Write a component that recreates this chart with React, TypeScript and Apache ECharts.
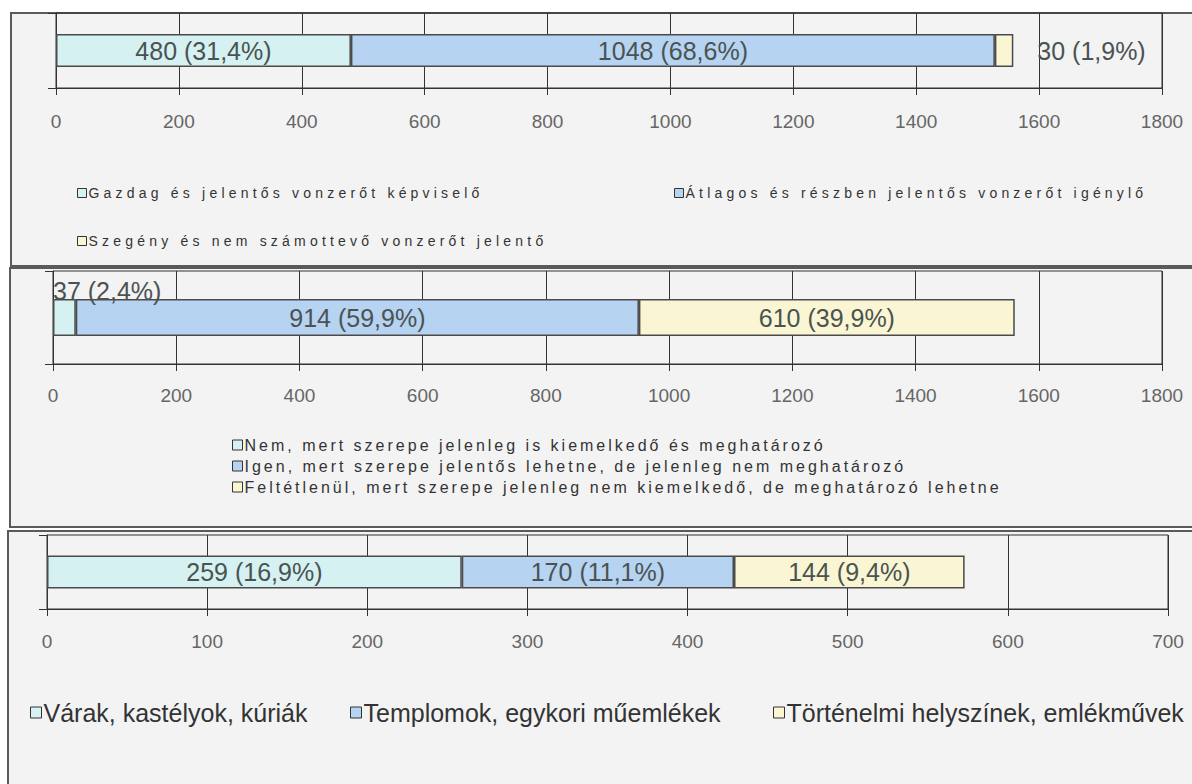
import React, { useEffect, useRef } from "react";
import * as echarts from "echarts";

// ---- data ----
const panel1Names = [
  "Gazdag és jelentős vonzerőt képviselő",
  "Átlagos és részben jelentős vonzerőt igénylő",
  "Szegény és nem számottevő vonzerőt jelentő",
];
const panel1Values = [480, 1048, 30];
const panel1Pcts = ["31,4%", "68,6%", "1,9%"];

const panel2Names = [
  "Nem, mert szerepe jelenleg is kiemelkedő és meghatározó",
  "Igen, mert szerepe jelentős lehetne, de jelenleg nem meghatározó",
  "Feltétlenül, mert szerepe jelenleg nem kiemelkedő, de meghatározó lehetne",
];
const panel2Values = [37, 914, 610];
const panel2Pcts = ["2,4%", "59,9%", "39,9%"];

const panel3Names = [
  "Várak, kastélyok, kúriák",
  "Templomok, egykori műemlékek",
  "Történelmi helyszínek, emlékművek",
];
const panel3Values = [259, 170, 144];
const panel3Pcts = ["16,9%", "11,1%", "9,4%"];

const axisMax = [1800, 1800, 700];
const axisStep = [200, 200, 100];

const seriesColors = ["#d6f1f1", "#b6d3f1", "#faf6d3"];

const FONT = "'Liberation Sans', Arial, sans-serif";

export default function App() {
  const ref = useRef<HTMLDivElement>(null);

  useEffect(() => {
    if (!ref.current) return;
    const el = ref.current;
    const chart = echarts.init(el, undefined, { renderer: "svg" });

    const panels = [
      { names: panel1Names, values: panel1Values, pcts: panel1Pcts },
      { names: panel2Names, values: panel2Values, pcts: panel2Pcts },
      { names: panel3Names, values: panel3Values, pcts: panel3Pcts },
    ];

    const grids = [
      { left: 56, top: 13, width: 1106, height: 75 },
      { left: 53, top: 271, width: 1109, height: 93 },
      { left: 47, top: 535, width: 1121, height: 74 },
    ];
    const barWidths = [33, 37, 33];
    const labelMargins = [24, 22, 23];

    // label placement per panel / series
    const labelPos: any[][] = [
      [
        { position: "inside" },
        { position: "inside" },
        { position: "right", distance: 24 },
      ],
      [
        { position: [0, -8], align: "left", verticalAlign: "middle" },
        { position: "inside" },
        { position: "inside" },
      ],
      [{ position: "inside" }, { position: "inside" }, { position: "inside" }],
    ];

    const series: any[] = [];
    panels.forEach((p, pi) => {
      p.names.forEach((name, si) => {
        series.push({
          type: "bar",
          name,
          stack: "s" + pi,
          xAxisIndex: pi,
          yAxisIndex: pi,
          barWidth: barWidths[pi],
          data: [p.values[si]],
          itemStyle: {
            color: seriesColors[si],
            borderColor: "#4a4a4a",
            borderWidth: 1.5,
          },
          label: {
            show: true,
            formatter: `${p.values[si]} (${p.pcts[si]})`,
            fontSize: 25,
            fontFamily: FONT,
            color: "#4a5252",
            ...labelPos[pi][si],
          },
        });
      });
    });

    const legendPos = [
      [
        { left: 77, top: 186 },
        { left: 674, top: 186 },
        { left: 77, top: 234 },
      ],
      [
        { left: 232, top: 437 },
        { left: 232, top: 458 },
        { left: 232, top: 479 },
      ],
      [
        { left: 30, top: 700 },
        { left: 350, top: 700 },
        { left: 773, top: 700 },
      ],
    ];
    const legendFont = [14, 16, 25];
    const legendIcon = [9, 10, 11];

    const legends: any[] = [];
    panels.forEach((p, pi) => {
      p.names.forEach((name, si) => {
        legends.push({
          data: [name],
          ...legendPos[pi][si],
          padding: 0,
          orient: "horizontal",
          icon: "rect",
          itemWidth: legendIcon[pi],
          itemHeight: legendIcon[pi],
          selectedMode: false,
          itemStyle: { borderColor: "#333", borderWidth: 1 },
          textStyle: {
            fontSize: legendFont[pi],
            fontFamily: FONT,
            color: "#333",
            padding: [0, 0, 0, -3],
          },
        });
      });
    });

    const option: any = {
      animation: false,
      backgroundColor: "#ffffff",
      graphic: [
        {
          type: "rect",
          z: -1,
          shape: { x: 11, y: 13, width: 1200, height: 253 },
          style: { fill: "#f3f3f3", stroke: "#5a5a5a", lineWidth: 2 },
        },
        {
          type: "rect",
          z: -1,
          shape: { x: 10, y: 268, width: 1200, height: 259 },
          style: { fill: "#f3f3f3", stroke: "#5a5a5a", lineWidth: 2 },
        },
        {
          type: "rect",
          z: -1,
          shape: { x: 8, y: 531, width: 1200, height: 270 },
          style: { fill: "#f3f3f3", stroke: "#5a5a5a", lineWidth: 2 },
        },
      ],
      grid: grids.map((g) => ({
        ...g,
        show: true,
        borderColor: "#333",
        borderWidth: 1,
        backgroundColor: "transparent",
        containLabel: false,
        outerBoundsMode: "none",
      })),
      xAxis: grids.map((_, i) => ({
        type: "value",
        gridIndex: i,
        min: 0,
        max: axisMax[i],
        interval: axisStep[i],
        axisLine: { show: true, lineStyle: { color: "#333", width: 1 } },
        axisTick: { show: true, length: 7, lineStyle: { color: "#333" } },
        splitLine: { show: true, lineStyle: { color: "#333", width: 1 } },
        axisLabel: {
          color: "#666",
          fontSize: 19,
          fontFamily: FONT,
          margin: labelMargins[i],
          formatter: (v: number) => String(v),
        },
      })),
      yAxis: grids.map((_, i) => ({
        type: "category",
        gridIndex: i,
        data: [""],
        axisLine: { show: true, lineStyle: { color: "#333" } },
        axisTick: { show: true, length: 8, lineStyle: { color: "#333" } },
        axisLabel: { show: false },
      })),
      legend: legends,
      series,
    };

    chart.setOption(option);

    const applySpacing = () => {
      el.querySelectorAll("text").forEach((t) => {
        const fs = parseFloat(getComputedStyle(t).fontSize);
        if (fs === 14) (t as any).style.letterSpacing = "4.2px";
        else if (fs === 16) (t as any).style.letterSpacing = "3px";
      });
    };
    applySpacing();
    chart.on("finished", applySpacing);
    const timer = setTimeout(applySpacing, 50);

    return () => {
      clearTimeout(timer);
      chart.dispose();
    };
  }, []);

  return (
    <div
      ref={ref}
      style={{ position: "fixed", left: 0, top: 0, width: 1192, height: 784 }}
    />
  );
}
